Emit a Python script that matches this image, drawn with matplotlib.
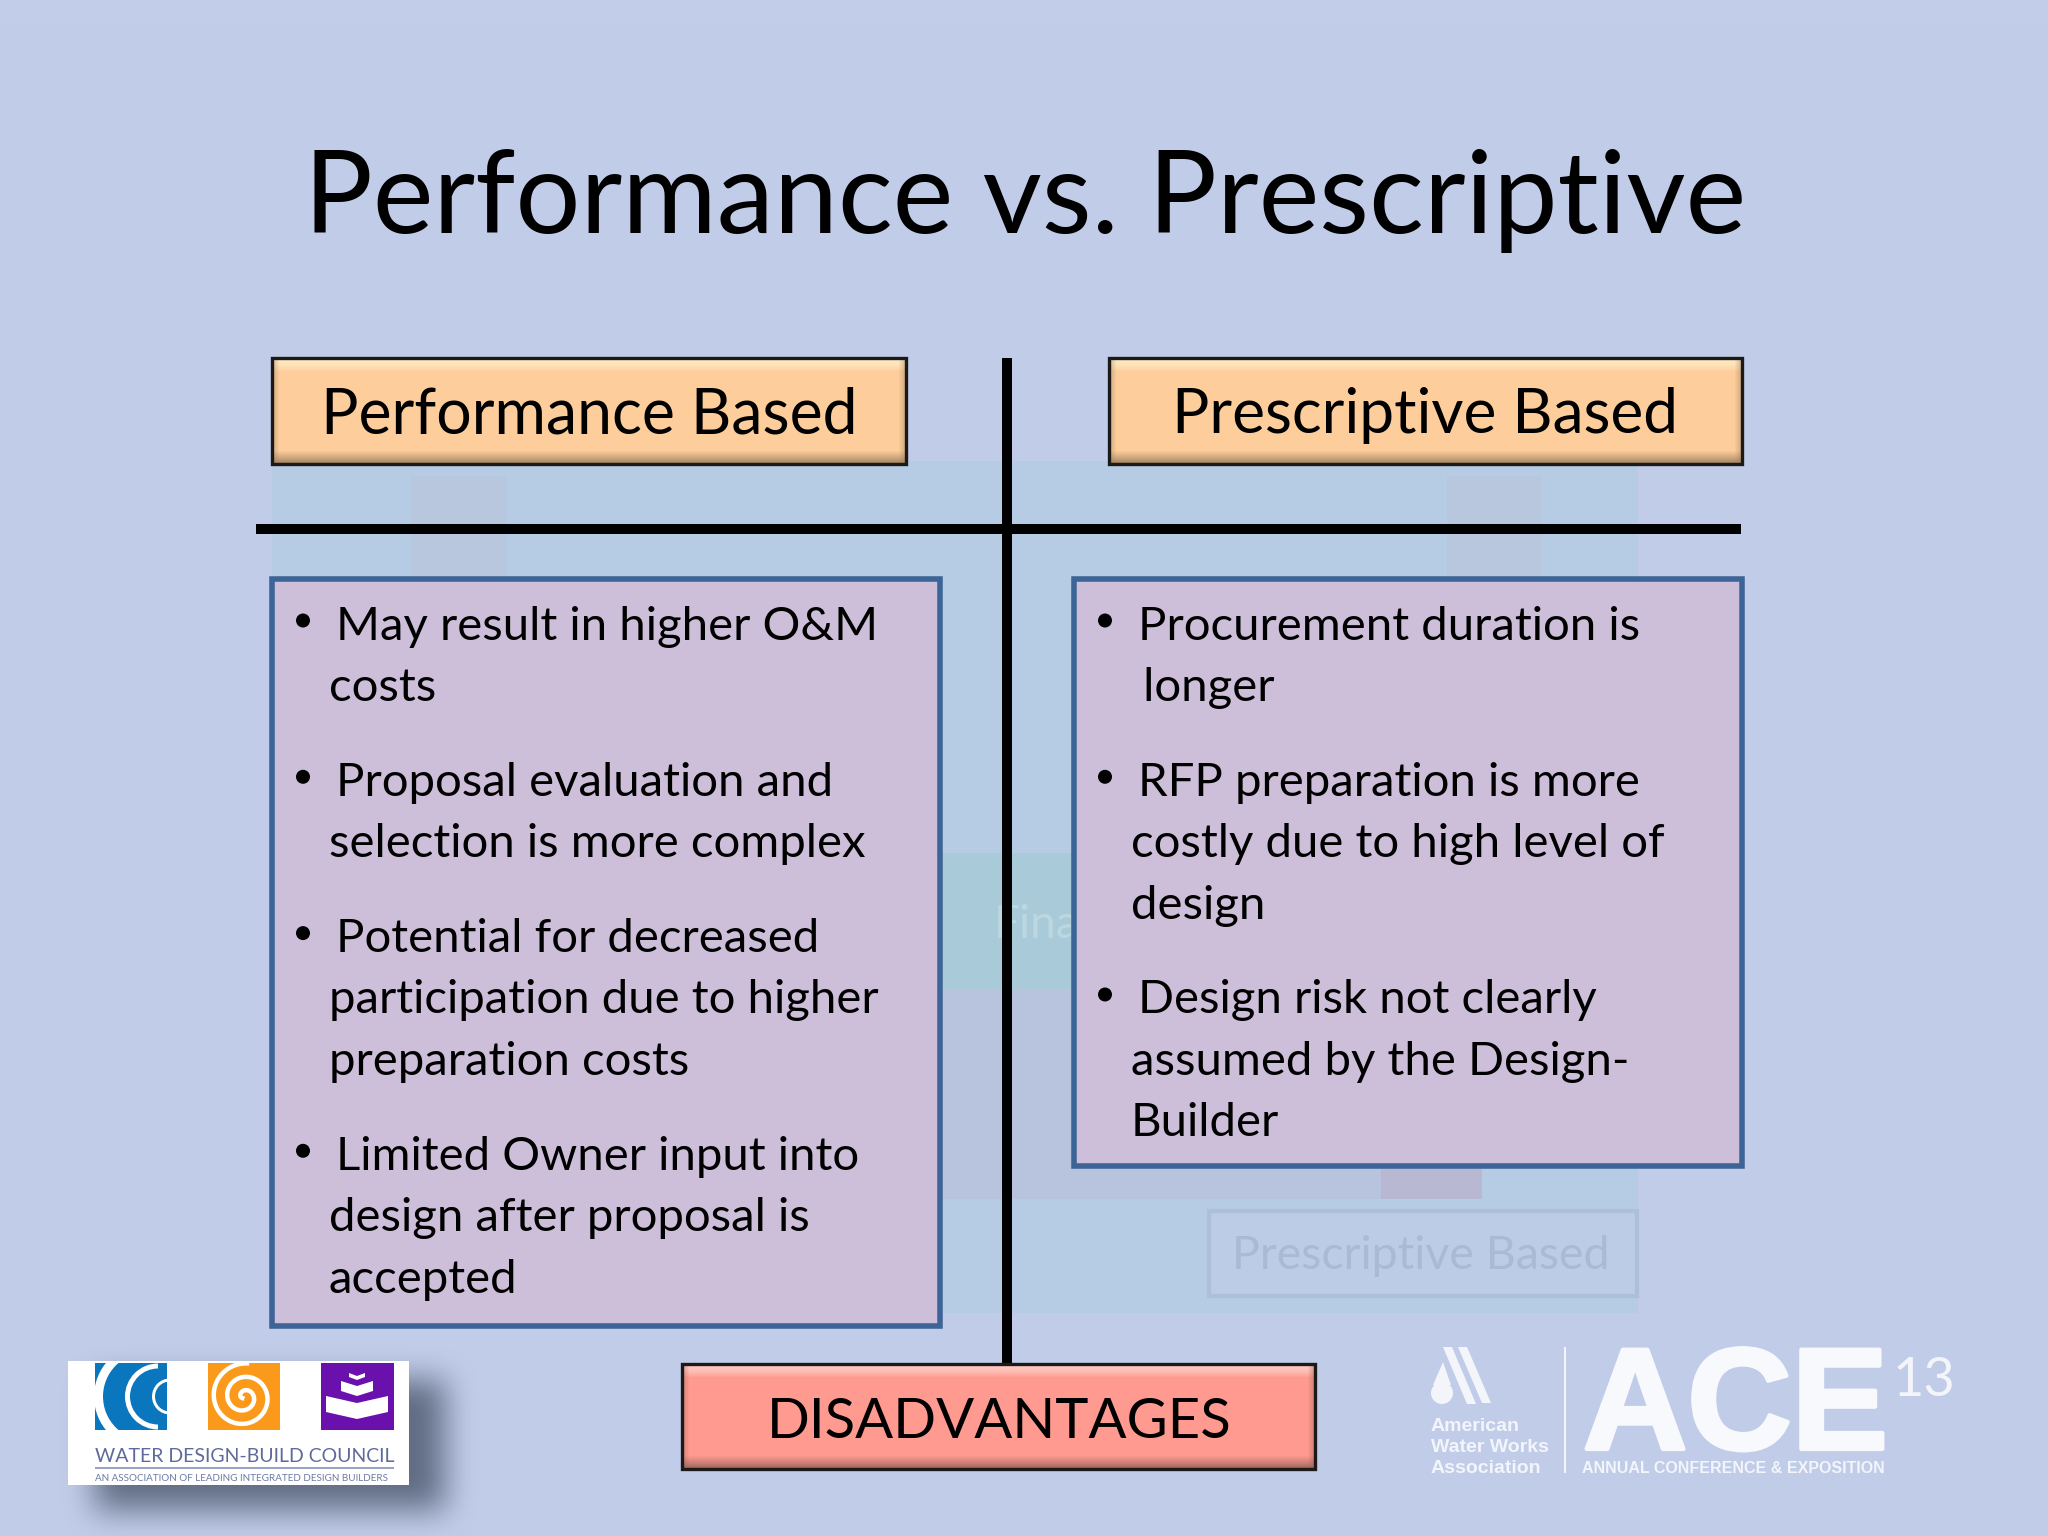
import numpy as np
import matplotlib
matplotlib.use("Agg")
import matplotlib.pyplot as plt
import matplotlib.patheffects as pe
from matplotlib.colors import LinearSegmentedColormap, to_rgb
from matplotlib.patches import Rectangle, Polygon, Circle, Wedge

TITLE = "Performance vs. Prescriptive"
HEAD_LEFT = "Performance Based"
HEAD_RIGHT = "Prescriptive Based"
FOOTER = "DISADVANTAGES"
LEFT_ITEMS = [
    ["May result in higher O&M", "costs"],
    ["Proposal evaluation and", "selection is more complex"],
    ["Potential for decreased", "participation due to higher", "preparation costs"],
    ["Limited Owner input into", "design after proposal is", "accepted"],
]
RIGHT_ITEMS = [
    ["Procurement duration is", " longer"],
    ["RFP preparation is more", "costly due to high level of", "design"],
    ["Design risk not clearly", "assumed by the Design-", "Builder"],
]

FONT = "Lato"
plt.rcParams["font.family"] = [FONT, "DejaVu Sans"]
W, H = 2048, 1536
fig = plt.figure(figsize=(W / 100, H / 100), dpi=100)
ax = fig.add_axes([0, 0, 1, 1])
ax.set_xlim(0, W)
ax.set_ylim(H, 0)
ax.axis("off")

def rect(x0, y0, x1, y1, fc, ec="none", lw=0, alpha=None, z=1):
    p = Rectangle((x0, y0), x1 - x0, y1 - y0, fc=fc, ec=ec, lw=lw, alpha=alpha, zorder=z)
    ax.add_patch(p)
    return p

# background
ax.imshow(np.linspace(0, 1, 64).reshape(-1, 1), extent=(0, W, H, 0), aspect="auto",
          cmap=LinearSegmentedColormap.from_list("bg", ["#c2cde9", "#c0cce8"]), zorder=0)

# ghosted picture behind the slide
rect(272, 461, 1638, 1313, "#b6cbe4", z=1)
rect(941, 853, 1074, 989, "#a9cbd9", z=1.1)
rect(272, 989, 1482, 1199, "#b8c4de", z=1.1)
rect(1381, 1166, 1482, 1199, "#b8b8d2", z=1.2)
for gx in (411, 1447):
    rect(gx, 476, gx + 95, 579, "#b9c7de", z=1.1)
rect(1209, 1211, 1637, 1296, "#bccce6", ec="#aebfd9", lw=3, z=1.2)
ax.text(1421, 1256, "Prescriptive Based", color="#a9bad4", fontsize=33.5, ha="center", va="center", zorder=1.3)
ax.text(994, 925, "Fina", color="#bcd7e0", fontsize=33, ha="left", va="center", zorder=1.3,
        clip_path=Rectangle((941, 853), 133, 136, transform=ax.transData))

def bevel_box(x0, y0, x1, y1, fc, light, dark, z=4):
    h = int(y1 - y0)
    top, bot = 13, 13
    fc_, li_, da_ = map(np.array, map(to_rgb, (fc, light, dark)))
    col = np.tile(fc_, (h, 1))
    for i in range(top):
        col[i] = li_ + (fc_ - li_) * (i / top) ** 2
    for i in range(bot):
        col[h - 1 - i] = da_ + (fc_ - da_) * (i / bot) ** .8
    img = np.tile(col[:, None, :], (1, int(x1 - x0), 1))
    for i in range(7):
        f = .45 * (1 - i / 7)
        img[:, i] = img[:, i] * (1 - f) + da_ * f
        img[:, -1 - i] = img[:, -1 - i] * (1 - f) + da_ * f
    ax.imshow(img, extent=(x0, x1, y1, y0), aspect="auto", zorder=z, interpolation="bilinear")
    rect(x0, y0, x1, y1, "none", ec="#1c1a18", lw=2.4, z=z + .1)

# rules
rect(1002, 358, 1012, 1364, "black", z=3)
rect(256, 524, 1741, 534, "black", z=3)

# header boxes
ORANGE = ("#fdcd9b", "#fee9c0", "#9a7c5c")
bevel_box(272, 358, 906, 464, *ORANGE)
bevel_box(1109, 358, 1742, 464, *ORANGE)
bevel_box(682, 1364, 1315, 1469, "#ff9a90", "#ffc9c0", "#96605a")
ax.text(589, 416, HEAD_LEFT, fontsize=45, ha="center", va="center", color="black", zorder=6)
ax.text(1425, 416, HEAD_RIGHT, fontsize=44.8, ha="center", va="center", color="black", zorder=6)
ax.text(999, 1422, FOOTER, fontsize=40.5, ha="center", va="center", color="black", zorder=6)

# title
ax.text(1025, 233, TITLE, fontsize=82.6, ha="center", va="baseline", color="black", zorder=6)

# text panels
PANEL = "#cdbfd9"; EDGE = "#3d6496"
rect(272, 579, 940, 1326, PANEL, ec=EDGE, lw=4, z=4)
rect(1074, 579, 1742, 1166, PANEL, ec=EDGE, lw=4, z=4)
LINE = 61.4; GAP = 33.5; BS = 34

def bullets(items, xb, x1, x2, y):
    for item in items:
        for i, s in enumerate(item):
            if i == 0:
                ax.add_patch(Circle((xb, y - 19), 7, fc="black", ec="none", zorder=6))
            ax.text(x1 if i == 0 else x2, y, s, fontsize=BS, ha="left", va="baseline", color="black", zorder=6)
            y += LINE
        y += GAP

bullets(LEFT_ITEMS, 303, 336, 329, 639.5)
bullets(RIGHT_ITEMS, 1105, 1138, 1131, 639.5)

# WDBC logo: soft shadow
sh = np.zeros((260, 520))
sh[60:190, 75:425] = 1.0
for _ in range(3):
    k = np.ones(29) / 29
    sh = np.apply_along_axis(lambda r: np.convolve(r, k, "same"), 0, sh)
    sh = np.apply_along_axis(lambda r: np.convolve(r, k, "same"), 1, sh)
rgba = np.zeros(sh.shape + (4,))
rgba[..., :3] = to_rgb("#4a556c")
rgba[..., 3] = sh * .8
ax.imshow(rgba, extent=(20, 540, 1580, 1320), aspect="auto", zorder=4)
rect(68, 1361, 409, 1485, "white", z=5)

blue = rect(95, 1363, 167, 1430, "#0a76bd", z=6)
for cx, r, t in ((147, 53, 9), (158, 33, 5), (170, 18, 3)):
    w = Wedge((cx, 1396.5), r, 90, 270, width=t, fc="white", ec="none", zorder=6.1)
    ax.add_patch(w)
    w.set_clip_path(blue)

rect(208, 1363, 280, 1430, "#fb9a1a", z=6)
th = np.linspace(0, 4.7 * np.pi, 300)
rad = 2 + 2.15 * th
ax.plot(244 + rad * np.cos(th + 2.6), 1397 + rad * np.sin(th + 2.6), color="white", lw=3.2, zorder=6.1,
        clip_path=Rectangle((208, 1363), 72, 67, transform=ax.transData))

rect(321, 1363, 394, 1430, "#6a10ad", z=6)
def chev(cx, y0, hw, h, d):
    ax.add_patch(Polygon([(cx - hw, y0), (cx, y0 + d), (cx + hw, y0), (cx + hw, y0 + h), (cx, y0 + h + d), (cx - hw, y0 + h)],
                         fc="white", ec="none", zorder=6.1))
chev(357, 1373, 8, 4, 3)
chev(357, 1381, 16, 10, 5)
chev(357, 1396, 31, 16, 7)

SANS = ["Liberation Sans", "DejaVu Sans"]
ax.text(95, 1462, "WATER DESIGN-BUILD COUNCIL", fontsize=14, family=[FONT, "DejaVu Sans"],
        color="#5f6a9c", ha="left", va="baseline", zorder=6)
rect(95, 1467, 394, 1469, "#98a3c6", z=6)
ax.text(95, 1481, "AN ASSOCIATION OF LEADING INTEGRATED DESIGN BUILDERS", fontsize=7.1, family=[FONT, "DejaVu Sans"], color="#6e7aa5",
        ha="left", va="baseline", zorder=6)

# ACE logo
LOGO = "#f3f5fb"
ax.text(1583, 1449, "ACE", fontsize=104, fontweight="bold", family=SANS, color="#f8f9fd", ha="left", va="baseline", zorder=2,
        path_effects=[pe.withStroke(linewidth=3, foreground="#f8f9fd")])
ax.text(1893, 1396, "13", fontsize=39, family=[FONT, "DejaVu Sans"], color=LOGO, ha="left", va="baseline", zorder=2)
ax.text(1582, 1473, "ANNUAL CONFERENCE & EXPOSITION", fontsize=11.5, fontweight="bold", family=SANS, color=LOGO, ha="left", va="baseline", zorder=2)
rect(1564, 1347, 1566, 1473, LOGO, z=2)
for i, s in enumerate(["American", "Water Works", "Association"]):
    ax.text(1431, 1431 + 21 * i, s, fontsize=14, fontweight="bold", family=SANS, color=LOGO, ha="left", va="baseline", zorder=2)
ax.add_patch(Polygon([(1443, 1347), (1452, 1347), (1476, 1404), (1467, 1404)], fc=LOGO, ec="none", zorder=2))
ax.add_patch(Polygon([(1458, 1347), (1467, 1347), (1491, 1403), (1482, 1403)], fc=LOGO, ec="none", zorder=2))
ax.add_patch(Polygon([(1443, 1362), (1433, 1385), (1451, 1385)], fc=LOGO, ec="none", zorder=2))
ax.add_patch(Circle((1442, 1393), 11, fc=LOGO, ec="none", zorder=2))

ax.set_xlim(0, W)
ax.set_ylim(H, 0)
fig.savefig("out.png", dpi=100)
